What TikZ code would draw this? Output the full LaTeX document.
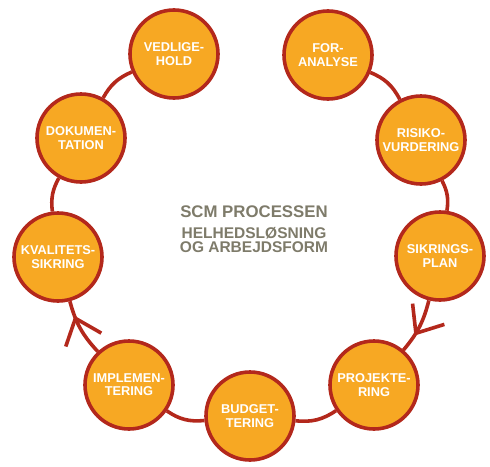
\documentclass[tikz,border=0pt]{standalone}
\usepackage{fontspec}
\setmainfont{Liberation Sans}
\usetikzlibrary{arrows.meta,decorations.markings}
\definecolor{nodefill}{HTML}{F7A823}
\definecolor{ringred}{HTML}{B3281C}
\definecolor{titlegray}{HTML}{7E7B6A}
\begin{document}
\begin{tikzpicture}[x=1pt,y=1pt,
  stage/.style={circle, draw=ringred, fill=nodefill, line width=3.6pt,
    minimum size=88pt, inner sep=0pt, align=center, text=white,
    font=\fontsize{12.8}{13.3}\selectfont\bfseries},
  ring/.style={draw=ringred, line width=3.6pt},
  flowarrow/.style={postaction={decorate}, decoration={markings,
    mark=at position #1 with {\arrow{Straight Barb[length=23pt,width=38pt,line width=3.6pt]}}}},
  titlebig/.style={anchor=base, text=titlegray,
    font=\fontsize{16.8}{18}\selectfont\bfseries},
  titlesmall/.style={anchor=base, text=titlegray,
    font=\fontsize{15.5}{16}\selectfont\bfseries}
]
\useasboundingbox (0,0) rectangle (490,-466);

\node[stage] (FOR) at (328,-55) {FOR-\\ANALYSE};
\node[stage] (RIS) at (421,-140) {RISIKO-\\VURDERING};
\node[stage] (SIK) at (440,-256) {SIKRINGS-\\PLAN};
\node[stage] (PRO) at (374,-385) {PROJEKTE-\\RING};
\node[stage] (BUD) at (250,-416) {BUDGET-\\TERING};
\node[stage] (IMP) at (129,-385) {IMPLEMEN-\\TERING};
\node[stage] (KVA) at (58,-257) {KVALITETS-\\SIKRING};
\node[stage] (DOK) at (81,-138) {DOKUMEN-\\TATION};
\node[stage] (VED) at (174,-54) {VEDLIGE-\\HOLD};

\draw[ring] (FOR) to[bend left=20] (RIS);
\draw[ring] (RIS) to[bend left=18] (SIK);
\draw[ring, flowarrow=0.68] (SIK) to[bend left=13] (PRO);
\draw[ring] (PRO) to[bend left=20] (BUD);
\draw[ring] (BUD) to[bend left=20] (IMP);
\draw[ring, flowarrow=0.74] (IMP) to[bend left=14] (KVA);
\draw[ring] (KVA) to[bend left=18] (DOK);
\draw[ring] (DOK) to[bend left=19] (VED);

\node[titlebig] (T1) at (254,-217) {SCM PROCESSEN};
\node[titlesmall] (T2) at (254,-238) {HELHEDSLØSNING};
\node[titlesmall] (T3) at (254,-252.5) {OG ARBEJDSFORM};
\end{tikzpicture}
\end{document}
